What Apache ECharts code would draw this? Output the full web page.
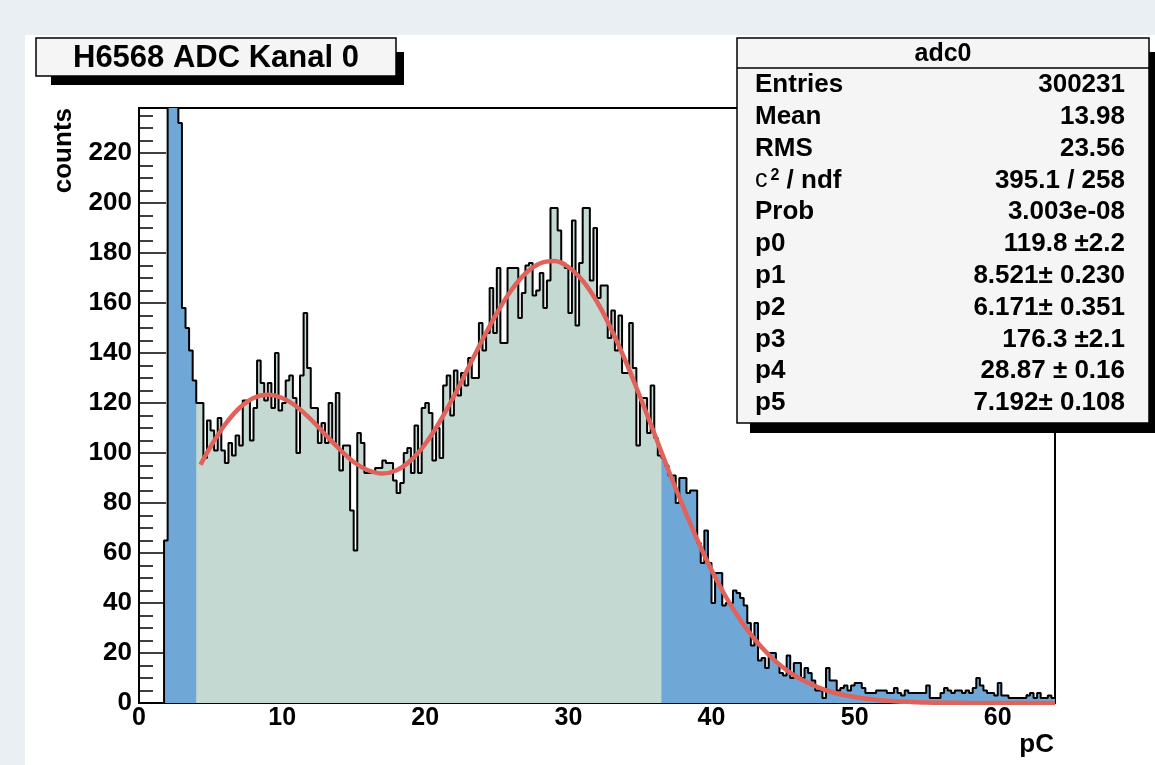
<!DOCTYPE html>
<html>
<head>
<meta charset="utf-8">
<title>H6568 ADC Kanal 0</title>
<script src="https://cdn.jsdelivr.net/npm/echarts@6/dist/echarts.min.js"></script>
<style>
  html, body { margin: 0; padding: 0; background: #e9eff2; overflow: hidden; }
  #paper { position: absolute; left: 25px; top: 35px; width: 1130px; height: 730px; background: #fff; }
  #chart { position: absolute; left: 0; top: 0; width: 1155px; height: 765px; }
</style>
</head>
<body>
<div id="paper"></div>
<div id="chart"></div>
<script>
// histogram adc0, bins of 0.25 pC from 0 to 64 pC
const binWidth = 0.25
const counts = [
  0, 0, 0, 0, 0, 0, 0, 65, 520, 980, 410, 232, 158, 150, 141, 129,
  120, 120, 98, 113, 109, 101, 114, 101, 96, 104, 99, 107, 103, 121, 121, 105,
  118, 137, 128, 121, 128, 118, 140, 117, 120, 129, 131, 122, 100, 131, 156, 134,
  118, 118, 104, 112, 104, 120, 104, 124, 93, 103, 103, 77, 61, 108, 104, 92,
  92, 92, 94, 94, 97, 96, 96, 89, 84, 88, 100, 102, 92, 111, 92, 118,
  120, 116, 97, 110, 98, 127, 131, 115, 133, 123, 132, 127, 138, 130, 130, 152,
  141, 148, 166, 148, 174, 144, 144, 174, 174, 174, 154, 164, 175, 176, 163, 165,
  172, 158, 169, 198, 198, 189, 176, 174, 156, 193, 151, 176, 198, 198, 169, 190,
  162, 167, 167, 146, 157, 141, 155, 132, 132, 152, 134, 103, 122, 122, 108, 127,
  106, 99, 98, 95, 91, 91, 80, 90, 90, 84, 85, 85, 64, 56, 69, 56,
  40, 52, 52, 39, 40, 40, 45, 44, 42, 39, 32, 23, 32, 17, 18, 14,
  20, 20, 16, 12, 11, 19, 10, 16, 16, 10, 14, 12, 9, 5, 5, 2,
  14, 9, 9, 5, 6, 7, 5, 7, 8, 8, 6, 4, 4, 4, 5, 5,
  5, 4, 4, 6, 4, 3, 5, 4, 4, 4, 4, 4, 7, 2, 2, 2,
  4, 6, 5, 4, 5, 5, 4, 5, 4, 6, 10, 7, 5, 4, 4, 3,
  8, 3, 3, 2, 2, 2, 2, 2, 3, 4, 2, 4, 2, 2, 3, 2
]
// bins drawn in green (4.0 - 36.5 pC)
const greenFirst = 16
const greenLast = 145

// fitted curve (double gaussian)
const fitX = [4.3, 5, 6, 7, 8, 9, 10, 11, 12, 13, 14, 15, 16, 17, 18, 19, 20, 21, 22, 23,
  24, 25, 26, 27, 28, 29, 30, 31, 32, 33, 34, 35, 36, 37, 38, 39, 40, 41, 42, 43,
  44, 45, 46, 47, 48, 49, 50, 51, 52, 53, 54, 55, 56, 58, 60, 64]
const fitY = [95.3, 102.5, 111.3, 117.9, 122.0, 123.3, 122.0, 118.6, 113.5, 107.5, 101.6, 96.4, 93.1, 91.8, 93.1, 97.1, 103.6, 112.4, 122.7, 134.0,
  145.3, 155.9, 165.0, 171.8, 175.8, 176.8, 174.4, 168.9, 160.5, 149.5, 136.7, 122.6, 107.9, 93.0, 78.8, 65.4, 53.2, 42.5, 33.3, 25.6,
  19.3, 14.2, 10.3, 7.4, 5.1, 3.5, 2.4, 1.6, 1.0, 0.6, 0.4, 0.2, 0.1, 0.05, 0.01, 0]

const statLabels = ['Entries', 'Mean', 'RMS', 'chi2', 'Prob', 'p0', 'p1', 'p2', 'p3', 'p4', 'p5']
const statValues = ['300231', '13.98', '23.56', '395.1 / 258', '3.003e-08', '119.8 \u00b12.2',
  '8.521\u00b1 0.230', '6.171\u00b1 0.351', '176.3 \u00b12.1', '28.87 \u00b1 0.16', '7.192\u00b1 0.108']

const FONT = '"Liberation Sans", Arial, Helvetica, sans-serif'
const BLUE = '#6fa7d6'
const GREEN = '#c3d9d1'
const RED = '#e0625a'

function histPoints(from, to) {
  const pts = []
  for (let i = from; i <= to; i++) {
    pts.push([i * binWidth, counts[i]])
  }
  pts.push([(to + 1) * binWidth, counts[to]])
  return pts
}

const chart = echarts.init(document.getElementById('chart'), null, { renderer: 'canvas' })

const statGraphics = []
statLabels.forEach((lab, i) => {
  const y = 85 + i * 31.8
  if (lab === 'chi2') {
    statGraphics.push({
      type: 'text', z: 110, x: 755, y: y,
      style: {
        text: '{c|c}{s|2}{b| / ndf}',
        textVerticalAlign: 'middle',
        rich: {
          c: { font: 'normal 25px ' + FONT, fill: '#000' },
          s: { font: 'bold 16px ' + FONT, fill: '#000', verticalAlign: 'top', padding: [0, 0, 10, 3] },
          b: { font: 'bold 26px ' + FONT, fill: '#000' }
        }
      }
    })
  } else {
    statGraphics.push({
      type: 'text', z: 110, x: 755, y: y,
      style: { text: lab, font: 'bold 26px ' + FONT, fill: '#000', textAlign: 'left', textVerticalAlign: 'middle' }
    })
  }
  statGraphics.push({
    type: 'text', z: 110, x: 1125, y: y,
    style: { text: statValues[i], font: 'bold 26px ' + FONT, fill: '#000', textAlign: 'right', textVerticalAlign: 'middle' }
  })
})

chart.setOption({
  animation: false,
  grid: {
    left: 139,
    right: 100,
    top: 108,
    bottom: 62,
    show: true,
    backgroundColor: '#fff',
    borderColor: '#000',
    borderWidth: 2
  },
  xAxis: [
    {
      type: 'value',
      min: 0,
      max: 64,
      interval: 10,
      splitLine: { show: false },
      axisLine: { lineStyle: { color: '#000', width: 2 } },
      axisTick: { inside: true, length: 17, lineStyle: { color: '#000', width: 1.5 } },
      axisLabel: {
        margin: 3,
        color: '#000',
        fontFamily: FONT,
        fontWeight: 'bold',
        fontSize: 25,
        formatter: v => (v % 10 === 0 ? String(v) : '')
      }
    },
    {
      type: 'value',
      min: 0,
      max: 64,
      interval: 2,
      position: 'bottom',
      splitLine: { show: false },
      axisLine: { show: false },
      axisTick: { inside: true, length: 9, lineStyle: { color: '#000', width: 1.5 } },
      axisLabel: { show: false }
    }
  ],
  yAxis: [
    {
      type: 'value',
      min: 0,
      max: 238,
      interval: 20,
      splitLine: { show: false },
      axisLine: { show: true, lineStyle: { color: '#000', width: 2 } },
      axisTick: { show: true, inside: true, length: 27, lineStyle: { color: '#000', width: 1.5 } },
      axisLabel: {
        margin: 7,
        color: '#000',
        fontFamily: FONT,
        fontWeight: 'bold',
        fontSize: 26,
        formatter: v => (v % 20 === 0 ? String(v) : '')
      }
    },
    {
      type: 'value',
      min: 0,
      max: 238,
      interval: 5,
      position: 'left',
      splitLine: { show: false },
      axisLine: { show: false },
      axisTick: { show: true, inside: true, length: 14, lineStyle: { color: '#000', width: 1.5 } },
      axisLabel: { show: false }
    }
  ],
  series: [
    {
      name: 'adc0 fill',
      type: 'line',
      step: 'end',
      symbol: 'none',
      clip: true,
      z: 1,
      lineStyle: { width: 0, opacity: 0 },
      areaStyle: { color: BLUE, opacity: 1 },
      data: histPoints(0, counts.length - 1)
    },
    {
      name: 'fit range',
      type: 'line',
      step: 'end',
      symbol: 'none',
      clip: true,
      z: 2,
      lineStyle: { width: 0, opacity: 0 },
      areaStyle: { color: GREEN, opacity: 1 },
      data: histPoints(greenFirst, greenLast)
    },
    {
      name: 'adc0',
      type: 'line',
      step: 'end',
      symbol: 'none',
      clip: true,
      z: 3,
      lineStyle: { color: '#000', width: 2 },
      data: histPoints(0, counts.length - 1)
    },
    {
      name: 'fit',
      type: 'line',
      smooth: 0.4,
      symbol: 'none',
      clip: true,
      zlevel: 1,
      z: 10,
      lineStyle: { color: RED, width: 4.5 },
      data: fitX.map((x, i) => [x, fitY[i]])
    }
  ],
  graphic: [
    // title box with shadow
    { type: 'rect', z: 100, shape: { x: 51, y: 52, width: 353, height: 33 }, style: { fill: '#000' } },
    { type: 'rect', z: 101, shape: { x: 36, y: 38, width: 360, height: 38 }, style: { fill: '#f5f5f5', stroke: '#000', lineWidth: 1.5 } },
    {
      type: 'text', z: 102, x: 216, y: 58,
      style: { text: 'H6568 ADC Kanal 0', font: 'bold 31px ' + FONT, fill: '#000', textAlign: 'center', textVerticalAlign: 'middle' }
    },
    // stats box with shadow
    { type: 'rect', z: 100, shape: { x: 750, y: 52, width: 410, height: 381 }, style: { fill: '#000' } },
    { type: 'rect', z: 101, shape: { x: 737, y: 38, width: 412, height: 385 }, style: { fill: '#f5f5f5', stroke: '#000', lineWidth: 1.5 } },
    { type: 'line', z: 102, shape: { x1: 737, y1: 68, x2: 1149, y2: 68 }, style: { stroke: '#000', lineWidth: 1.5 } },
    {
      type: 'text', z: 102, x: 943, y: 54,
      style: { text: 'adc0', font: 'bold 25px ' + FONT, fill: '#000', textAlign: 'center', textVerticalAlign: 'middle' }
    },
    ...statGraphics,
    // axis titles
    {
      type: 'text', z: 102, x: 64, y: 108, rotation: Math.PI / 2,
      style: { text: 'counts', font: 'bold 26px ' + FONT, fill: '#000', textAlign: 'right', textVerticalAlign: 'middle' }
    },
    {
      type: 'text', z: 102, x: 1054, y: 745,
      style: { text: 'pC', font: 'bold 26px ' + FONT, fill: '#000', textAlign: 'right', textVerticalAlign: 'middle' }
    }
  ]
})
</script>
</body>
</html>
